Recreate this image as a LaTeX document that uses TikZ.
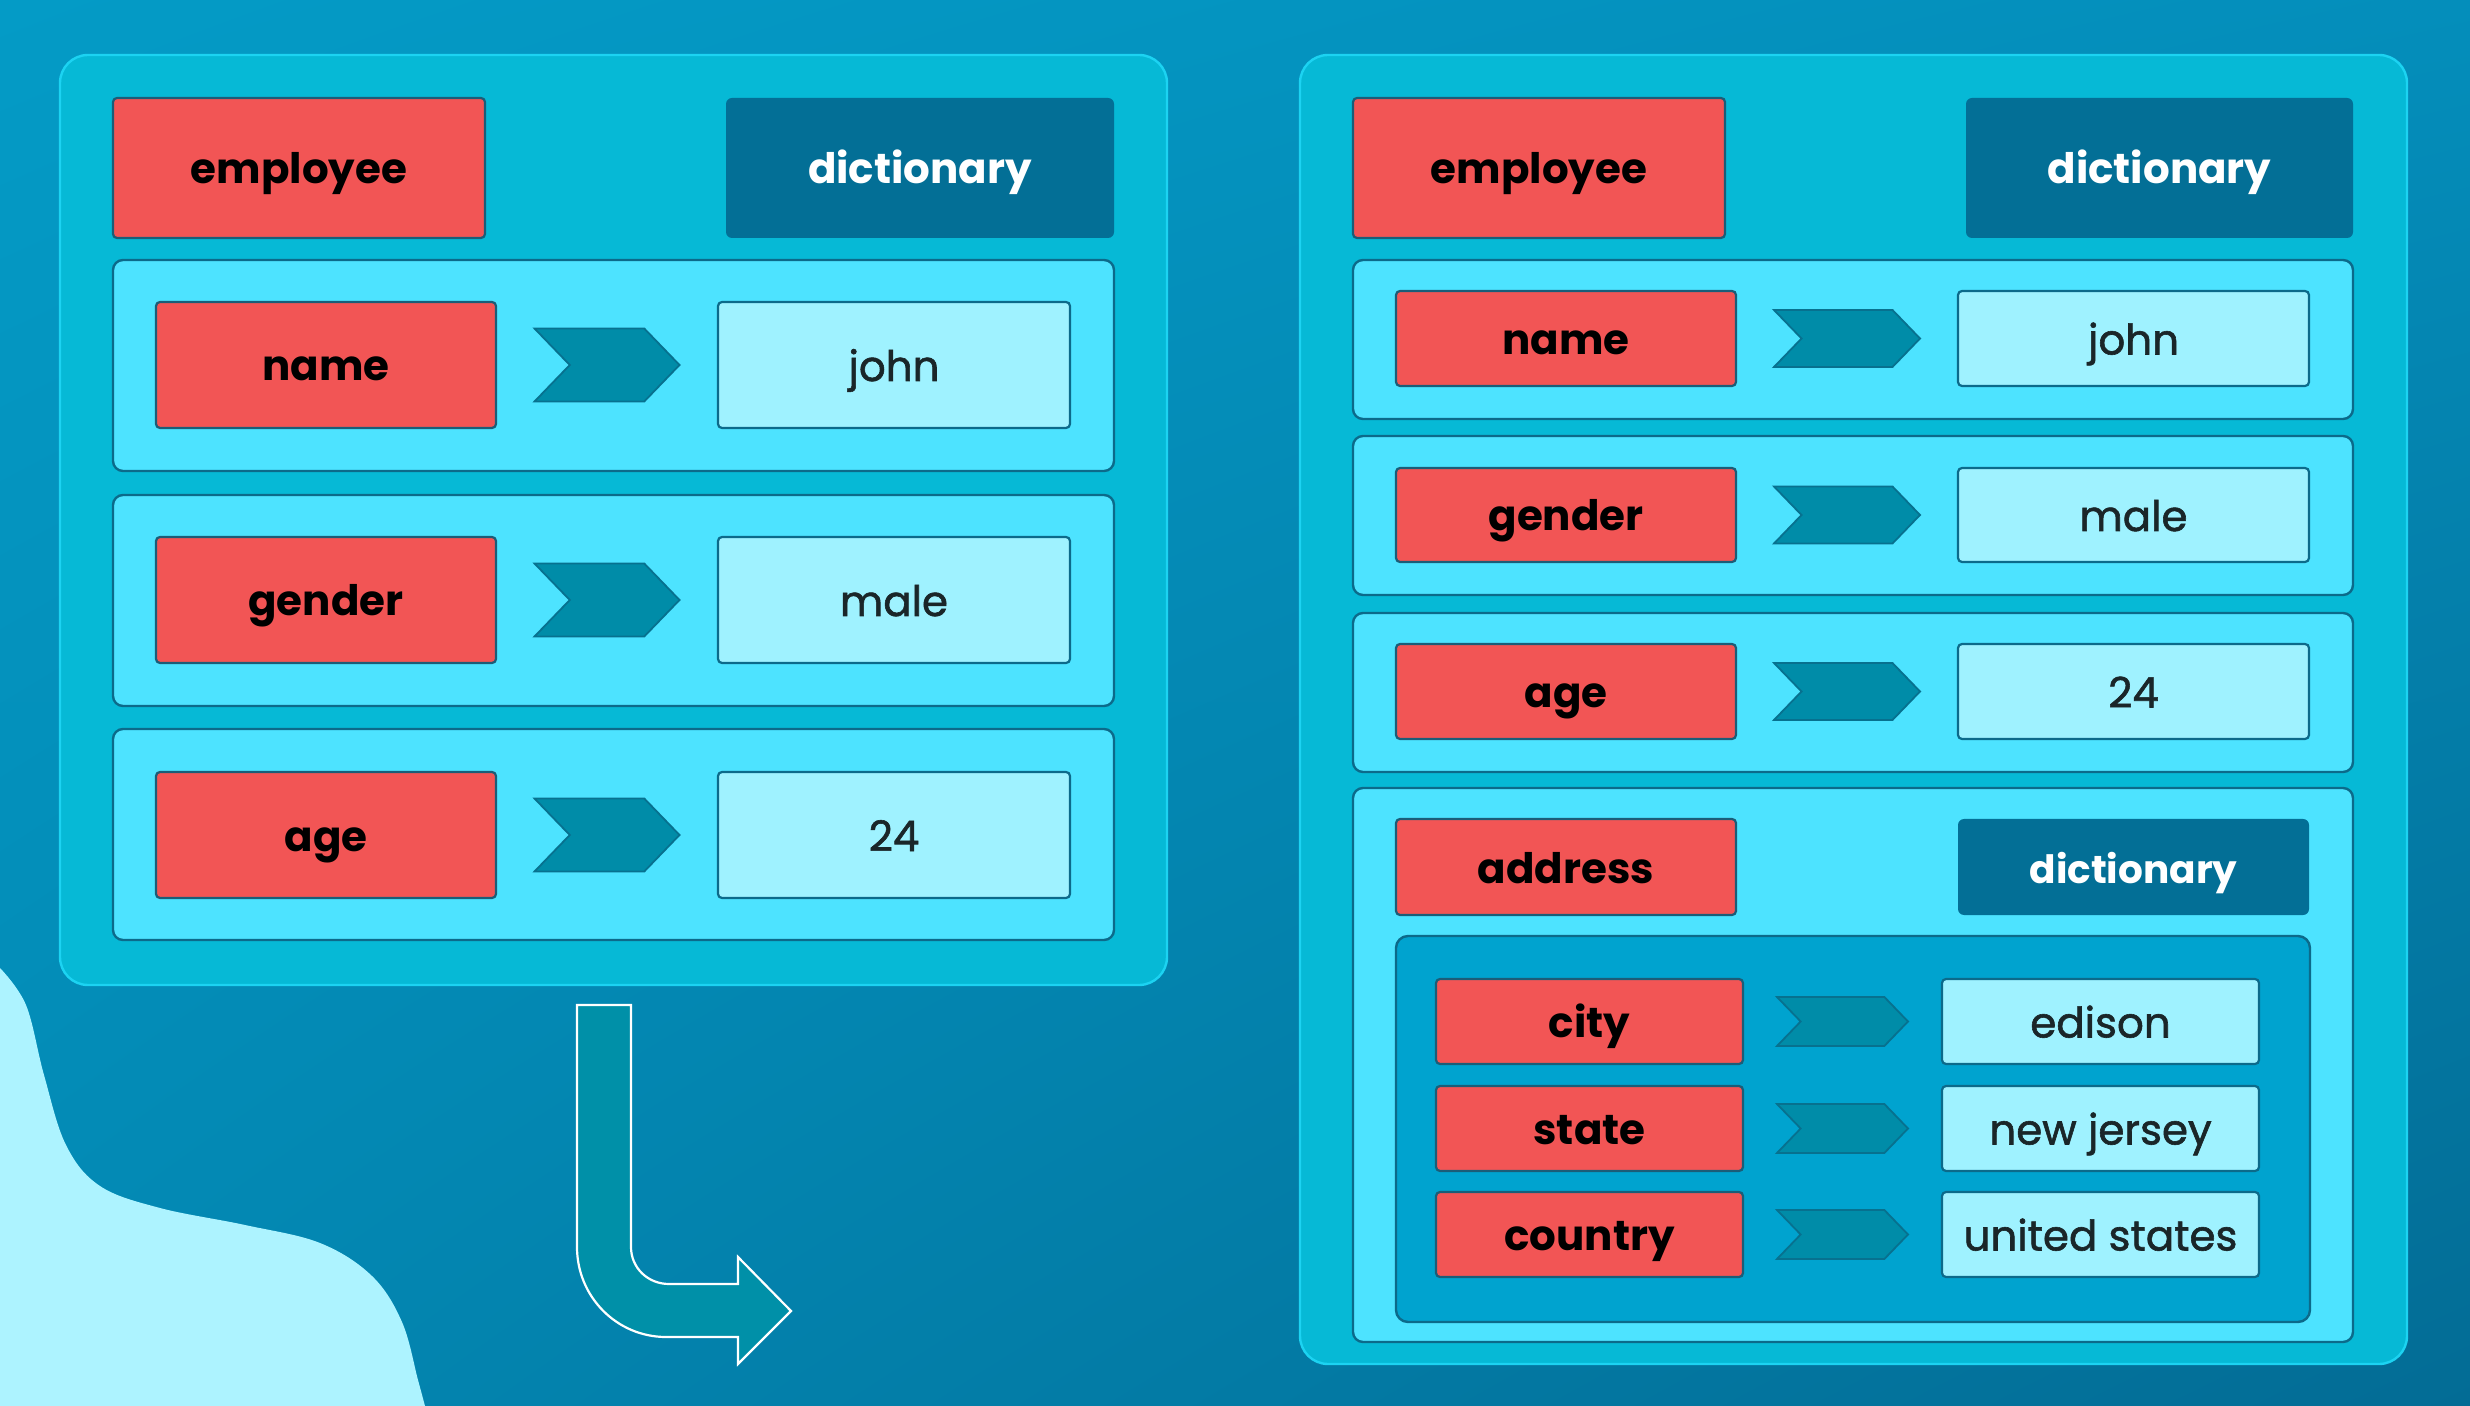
\documentclass[tikz,border=0pt]{standalone}
\usepackage{fontspec}
\setmainfont{Poppins}
\newfontfamily\valfam{Poppins}[FakeBold=1.4]
\usetikzlibrary{shapes.symbols,calc,shadings}
\definecolor{bgUL}{HTML}{049BC6}
\definecolor{bgUR}{HTML}{048EBB}
\definecolor{bgLL}{HTML}{0388B3}
\definecolor{bgLR}{HTML}{036C95}
\definecolor{panelfill}{HTML}{06B9D6}
\definecolor{panelline}{HTML}{1CD3F2}
\definecolor{rowfill}{HTML}{4DE3FF}
\definecolor{rowline}{HTML}{0C6A8A}
\definecolor{innerfill}{HTML}{00A3CF}
\definecolor{keyfill}{HTML}{F25555}
\definecolor{keyline}{HTML}{1B5D78}
\definecolor{valfill}{HTML}{9FF2FF}
\definecolor{valtext}{HTML}{1A2629}
\definecolor{dictfill}{HTML}{036F96}
\definecolor{chevfill}{HTML}{008CA8}
\definecolor{chevline}{HTML}{07718F}
\definecolor{arrowfill}{HTML}{0090A8}
\definecolor{blobfill}{HTML}{ADF3FF}
\newcommand\keyfont{\bfseries\fontsize{21}{25}\selectfont}
\newcommand\valfont{\valfam\fontsize{21}{25}\selectfont}
\newcommand\pbox[7]{\node[#2,minimum width={(#5-#3)*0.5pt},minimum height={(#6-#4)*0.5pt}] (#1) at ({(#3+#5)/2},{(#4+#6)/2}) {#7};}
\tikzset{
 allbox/.style={inner sep=0pt, outer sep=0pt, text height=18pt, text depth=2pt},
 panelbox/.style={allbox, draw=panelline, line width=1.2pt, fill=panelfill, rounded corners=14pt},
 rowbox/.style={allbox, draw=rowline, line width=1.2pt, fill=rowfill, rounded corners=5pt},
 innerbox/.style={allbox, draw=rowline, line width=1.2pt, fill=innerfill, rounded corners=6pt},
 keybox/.style={allbox, draw=keyline, line width=1.1pt, fill=keyfill, rounded corners=2pt, font=\keyfont, text=black},
 valbox/.style={allbox, draw=rowline, line width=1.1pt, fill=valfill, rounded corners=2pt, font=\valfont, text=valtext},
 dictbox/.style={allbox, fill=dictfill, rounded corners=3pt, font=\keyfont, text=white},
 smalldict/.style={dictbox, font=\bfseries\fontsize{19.5}{24}\selectfont},
 chev/.style={signal, signal from=west, signal to=east, signal pointer angle=92, draw=chevline, line width=0.9pt, fill=chevfill, inner sep=0pt, outer sep=0pt},
 chevA/.style={chev, minimum width=72.5pt, minimum height=36.5pt},
 chevB/.style={chev, minimum width=73pt, minimum height=28.5pt},
 chevC/.style={chev, minimum width=65.5pt, minimum height=24.5pt},
}
\begin{document}
\begin{tikzpicture}[x=0.5pt,y=-0.5pt]
\useasboundingbox (0,0) rectangle (2470,1406);
\shade[upper left=bgUL, upper right=bgUR, lower left=bgLL, lower right=bgLR] (0,0) rectangle (2470,1406);
% blob
\fill[blobfill] plot[smooth, tension=0.6] coordinates {(0,968) (26,1005) (44,1075) (66,1145) (100,1186) (160,1208) (245,1225) (320,1243) (372,1276) (402,1322) (418,1380) (425,1406)} -- (0,1406) -- cycle;
% bent arrow
\draw[white, line width=1.1pt, fill=arrowfill, line join=miter]
 (577,1005) -- (631,1005) -- (631,1247) .. controls (631,1268) and (648,1284) .. (669,1284)
 -- (738,1284) -- (738,1257) -- (791,1311) -- (738,1364) -- (738,1337) -- (666,1337)
 .. controls (617,1337) and (577,1297) .. (577,1247) -- cycle;
% left panel
\pbox{L}{panelbox}{60}{55}{1167}{985}{}
\pbox{Lemp}{keybox}{113}{98}{485}{238}{employee}
\pbox{Ldict}{dictbox}{726}{98}{1114}{238}{dictionary}
\pbox{Lr1}{rowbox}{113}{260}{1114}{471}{}
\pbox{Lk1}{keybox}{156}{302}{496}{428}{name}
\pbox{Lv1}{valbox}{718}{302}{1070}{428}{john}
\pbox{Lr2}{rowbox}{113}{495}{1114}{706}{}
\pbox{Lk2}{keybox}{156}{537}{496}{663}{gender}
\pbox{Lv2}{valbox}{718}{537}{1070}{663}{male}
\pbox{Lr3}{rowbox}{113}{729}{1114}{940}{}
\pbox{Lk3}{keybox}{156}{772}{496}{898}{age}
\pbox{Lv3}{valbox}{718}{772}{1070}{898}{24}
\foreach \i in {1,2,3}{\node[chevA] (Lc\i) at ($(Lk\i.east)!0.5!(Lv\i.west)$) {};}
% right panel
\pbox{R}{panelbox}{1300}{55}{2407}{1364}{}
\pbox{Remp}{keybox}{1353}{98}{1725}{238}{employee}
\pbox{Rdict}{dictbox}{1966}{98}{2353}{238}{dictionary}
\pbox{Rr1}{rowbox}{1353}{260}{2353}{419}{}
\pbox{Rk1}{keybox}{1396}{291}{1736}{386}{name}
\pbox{Rv1}{valbox}{1958}{291}{2309}{386}{john}
\pbox{Rr2}{rowbox}{1353}{436}{2353}{595}{}
\pbox{Rk2}{keybox}{1396}{468}{1736}{562}{gender}
\pbox{Rv2}{valbox}{1958}{468}{2309}{562}{male}
\pbox{Rr3}{rowbox}{1353}{613}{2353}{772}{}
\pbox{Rk3}{keybox}{1396}{644}{1736}{739}{age}
\pbox{Rv3}{valbox}{1958}{644}{2309}{739}{24}
\foreach \i in {1,2,3}{\node[chevB] (Rc\i) at ($(Rk\i.east)!0.5!(Rv\i.west)$) {};}
\pbox{Raddr}{rowbox}{1353}{788}{2353}{1342}{}
\pbox{Rak}{keybox}{1396}{819}{1736}{915}{address}
\pbox{Radict}{smalldict}{1958}{819}{2309}{915}{dictionary}
\pbox{Rin}{innerbox}{1396}{936}{2310}{1322}{}
\pbox{Rk4}{keybox}{1436}{979}{1743}{1064}{city}
\pbox{Rv4}{valbox}{1942}{979}{2259}{1064}{edison}
\pbox{Rk5}{keybox}{1436}{1086}{1743}{1171}{state}
\pbox{Rv5}{valbox}{1942}{1086}{2259}{1171}{new jersey}
\pbox{Rk6}{keybox}{1436}{1192}{1743}{1277}{country}
\pbox{Rv6}{valbox}{1942}{1192}{2259}{1277}{united states}
\foreach \i in {4,5,6}{\node[chevC] (Rc\i) at ($(Rk\i.east)!0.5!(Rv\i.west)$) {};}
\end{tikzpicture}
\end{document}
